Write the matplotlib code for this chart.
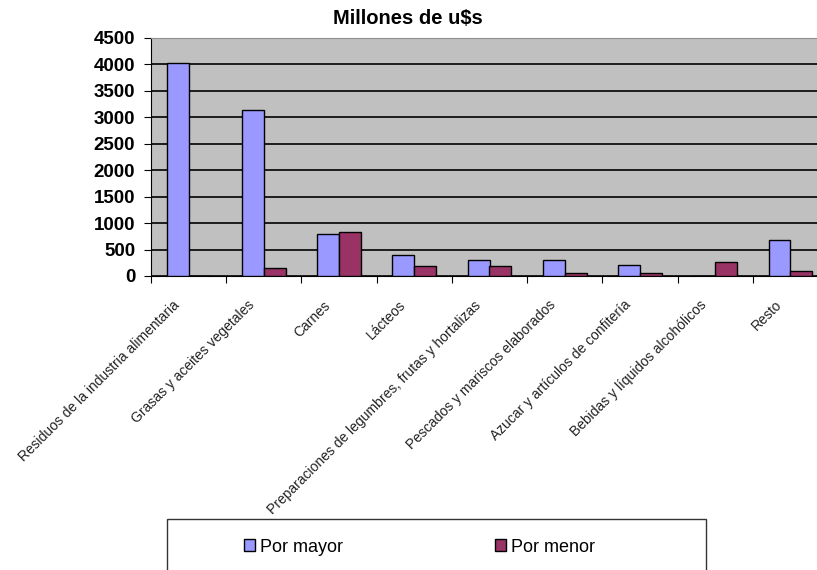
import numpy as np
import matplotlib
matplotlib.use("Agg")
import matplotlib.pyplot as plt
from matplotlib.patches import Rectangle
from matplotlib.transforms import ScaledTranslation

plt.rcParams["font.family"] = ["Liberation Sans", "DejaVu Sans"]

categories = [
    "Residuos de la industria alimentaria",
    "Grasas y aceites vegetales",
    "Carnes",
    "Lácteos",
    "Preparaciones de legumbres, frutas y hortalizas",
    "Pescados y mariscos elaborados",
    "Azucar y artículos de confitería",
    "Bebidas y líquidos alcohólicos",
    "Resto",
]
por_mayor = [4030, 3135, 800, 390, 300, 300, 210, 0, 680]
por_menor = [0, 155, 835, 190, 190, 65, 65, 265, 95]
yticks = [0, 500, 1000, 1500, 2000, 2500, 3000, 3500, 4000, 4500]

W, H = 817, 570
fig = plt.figure(figsize=(W / 100, H / 100), dpi=100)
# plot area runs past the right edge of the picture, as in the original
ax = fig.add_axes([151 / W, 1 - 276 / H, (828 - 151) / W, (276 - 38) / H])
ax.set_facecolor("#C0C0C0")

x = np.arange(len(categories))
bw = 0.29
ax.bar(x - bw / 2, por_mayor, bw, color="#9999FF", edgecolor="black",
       linewidth=1, label="Por mayor", zorder=3)
ax.bar(x + bw / 2, por_menor, bw, color="#993366", edgecolor="black",
       linewidth=1, label="Por menor", zorder=3)

ax.set_xlim(-0.5, len(categories) - 0.5)
ax.set_ylim(0, 4500)
ax.set_yticks(yticks)
ax.set_yticklabels([str(v) for v in yticks], fontsize=13.5, fontweight="bold")
ax.yaxis.grid(True, color="black", linewidth=1.2, zorder=1)
ax.set_axisbelow(True)

ax.set_xticks(np.arange(len(categories) + 1) - 0.5)
ax.set_xticklabels([])
ax.tick_params(axis="x", length=5, direction="out", color="black")
ax.tick_params(axis="y", length=5, direction="out", color="black", pad=6.4)

# category labels, placed by hand so they sit left of the group centre
lbl_tr = ax.get_xaxis_transform() + ScaledTranslation(-16 / 100, -22 / 100,
                                                        fig.dpi_scale_trans)
for i, name in enumerate(categories):
    ax.text(i, 0, name, transform=lbl_tr, rotation=45, ha="right", va="top",
            rotation_mode="anchor", fontsize=10, color="#222222",
            clip_on=False)

ax.spines["left"].set_color("black")
ax.spines["bottom"].set_color("black")
ax.spines["top"].set_color("#909090")
ax.spines["right"].set_color("#909090")

fig.text(408 / W, 1 - 18 / H, "Millones de u$s", ha="center", va="center",
         fontsize=14.5, fontweight="bold")

# legend box, cut off at the bottom like the reference
fig.patches.append(Rectangle((167 / W, (H - 600) / H), (706 - 167) / W, 81 / H,
                             transform=fig.transFigure, fill=False,
                             edgecolor="#333333", linewidth=1))
fig.legend(loc="center left", bbox_to_anchor=(244 / W, 1 - 547 / H), ncol=2,
           frameon=False, fontsize=13, handlelength=0.6, handleheight=0.6,
           handletextpad=0.3, columnspacing=8.4, borderpad=0, borderaxespad=0)

fig.savefig("out.png", dpi=100)
